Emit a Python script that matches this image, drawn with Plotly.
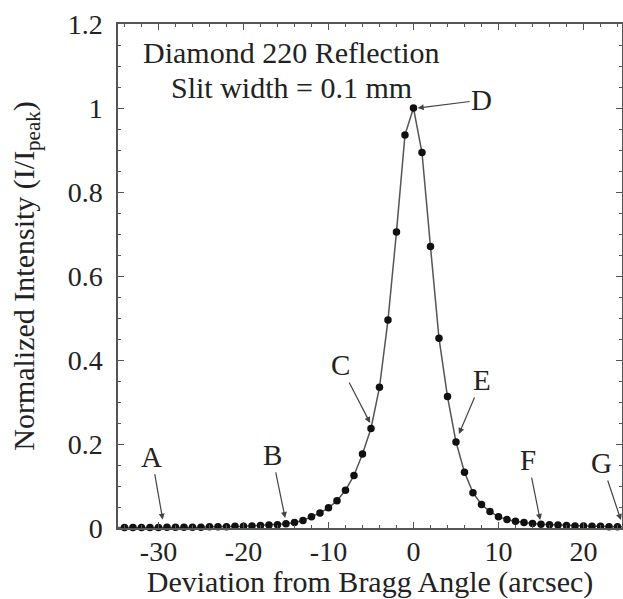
import plotly.graph_objects as go

# Deviation from Bragg angle (arcsec)
deviation = list(range(-35, 26))
# Normalized intensity I/I_peak
intensity = [
    0.001, 0.001, 0.001, 0.001, 0.001, 0.001, 0.002, 0.002, 0.002, 0.002,   # -35..-26
    0.002, 0.003, 0.003, 0.003, 0.004, 0.004, 0.005, 0.006, 0.007, 0.008,   # -25..-16
    0.010, 0.013, 0.018, 0.027, 0.036, 0.048, 0.065, 0.090, 0.125, 0.176,   # -15..-6
    0.237, 0.335, 0.495, 0.705, 0.936, 1.000, 0.894, 0.670, 0.452, 0.313,   # -5..4
    0.205, 0.133, 0.084, 0.056, 0.039, 0.027, 0.020, 0.016, 0.013, 0.011,   # 5..14
    0.009, 0.008, 0.007, 0.006, 0.005, 0.005, 0.004, 0.004, 0.003, 0.003,   # 15..24
    0.003,                                                                   # 25
]

x_tickvals = [-30, -20, -10, 0, 10, 20]
x_ticktext = ["-30", "-20", "-10", "0", "10", "20"]
y_tickvals = [0, 0.2, 0.4, 0.6, 0.8, 1.0, 1.2]
y_ticktext = ["0", "0.2", "0.4", "0.6", "0.8", "1", "1.2"]

labels = ["A", "B", "C", "D", "E", "F", "G"]
label_x = [-29.5, -15.1, -5.1, 0.5, 5.35, 14.9, 24.4]
label_y = [0.02, 0.024, 0.25, 1.0, 0.224, 0.019, 0.019]
label_ax = [-11, -13, -30, 64, 23, -12, -19]
label_ay = [-63, -63, -58, -8, -54, -60, -57]

title_lines = ["Diamond 220 Reflection", "Slit width = 0.1 mm"]
title_line_x = [-14.4, -14.4]
title_line_y = [1.131, 1.048]

FONT = "Liberation Serif"
TXT = "#222222"
AX = "#555555"

fig = go.Figure()
fig.add_trace(go.Scatter(
    x=deviation, y=intensity, mode="lines+markers",
    line=dict(color="#555555", width=1.5),
    marker=dict(color="#111111", size=7.5),
    cliponaxis=False, showlegend=False,
))

for t, x, y, ax, ay in zip(labels, label_x, label_y, label_ax, label_ay):
    fig.add_annotation(
        x=x, y=y, text=t, showarrow=True, ax=ax, ay=ay,
        arrowhead=2, arrowsize=1, arrowwidth=1.2, arrowcolor="#444444",
        font=dict(family=FONT, size=29, color=TXT),
    )

for t, x, y in zip(title_lines, title_line_x, title_line_y):
    fig.add_annotation(
        x=x, y=y, xref="x", yref="y", showarrow=False, text=t,
        font=dict(family=FONT, size=30, color=TXT),
    )

axis_common = dict(
    showline=True, linecolor=AX, linewidth=1.5, mirror="ticks",
    ticks="inside", ticklen=6, tickwidth=1.2, tickcolor=AX,
    showgrid=False, zeroline=False, automargin=False,
    tickfont=dict(family=FONT, size=28, color=TXT),
)

fig.update_xaxes(
    range=[-34.76, 24.53], tickmode="array",
    tickvals=x_tickvals, ticktext=x_ticktext,
    minor=dict(dtick=2, tick0=0, ticks="inside", ticklen=3, tickcolor=AX),
    title=dict(text="Deviation from Bragg Angle (arcsec)",
               font=dict(family=FONT, size=30, color=TXT), standoff=2),
    ticklabelstandoff=-2,
    **axis_common,
)
fig.update_yaxes(
    range=[0, 1.2], tickmode="array",
    tickvals=y_tickvals, ticktext=y_ticktext,
    minor=dict(dtick=0.05, tick0=0, ticks="inside", ticklen=3, tickcolor=AX),
    title=dict(text="Normalized Intensity (I/I<sub>peak</sub>)",
               font=dict(family=FONT, size=30, color=TXT), standoff=24),
    ticklabelstandoff=8,
    **axis_common,
)

fig.update_layout(
    width=623, height=599,
    margin=dict(l=118, r=1, t=24, b=71),
    paper_bgcolor="white", plot_bgcolor="white",
)

# remove the default 8px page margin so the 623x599 figure fills the window exactly
fig.write_html(
    "out.html",
    config={"displayModeBar": False},
    post_script="document.body.style.margin='0px';document.body.style.overflow='hidden';",
)
